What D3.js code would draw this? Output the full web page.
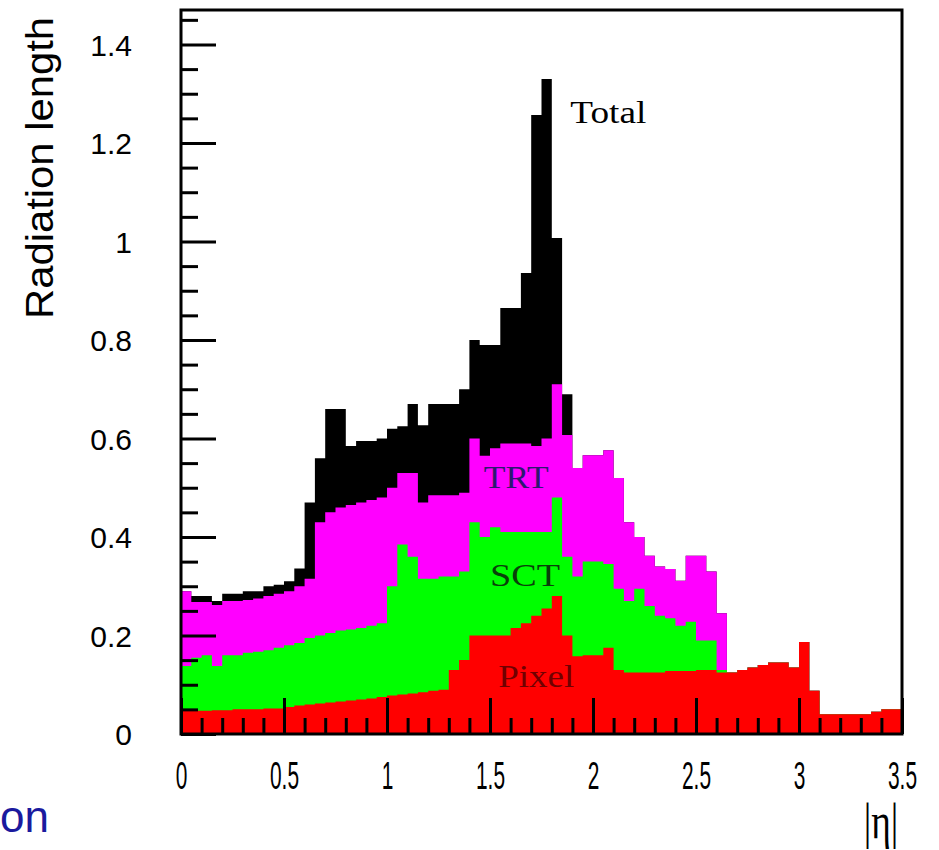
<!DOCTYPE html>
<html>
<head>
<meta charset="utf-8">
<script src="https://cdn.jsdelivr.net/npm/d3@7"></script>
<style>
  body { margin: 0; background: #fff; }
  svg { display: block; }
</style>
</head>
<body>
<div class="chart"></div>
<script>
var width = 939,
    height = 850;

// |eta| histogram, 70 bins of 0.05 from 0 to 3.5
var binWidth = 0.05;

// cumulative levels as drawn (each one sits on top of the next)
var total = [
  0.29, 0.28, 0.28, 0.27, 0.285, 0.285, 0.29, 0.29, 0.30, 0.303,
  0.31, 0.336, 0.47, 0.56, 0.66, 0.66, 0.585, 0.595, 0.595, 0.60,
  0.62, 0.625, 0.67, 0.627, 0.67, 0.67, 0.67, 0.70, 0.80, 0.79,
  0.79, 0.865, 0.865, 0.936, 1.257, 1.33, 1.007, 0.69, 0.54, 0.566,
  0.566, 0.576, 0.52, 0.43, 0.40, 0.362, 0.34, 0.335, 0.311, 0.362,
  0.362, 0.33, 0.245, 0.125, 0.13, 0.135, 0.14, 0.145, 0.145, 0.135,
  0.187, 0.088, 0.04, 0.04, 0.04, 0.04, 0.04, 0.045, 0.05, 0.05];

var trt = [
  0.29, 0.268, 0.268, 0.262, 0.27, 0.27, 0.272, 0.275, 0.28, 0.285,
  0.29, 0.30, 0.315, 0.43, 0.45, 0.46, 0.465, 0.47, 0.475, 0.48,
  0.50, 0.53, 0.53, 0.47, 0.485, 0.485, 0.485, 0.49, 0.60, 0.565,
  0.58, 0.59, 0.59, 0.59, 0.585, 0.60, 0.71, 0.607, 0.54, 0.566,
  0.566, 0.576, 0.52, 0.43, 0.40, 0.362, 0.34, 0.335, 0.311, 0.362,
  0.362, 0.33, 0.245, 0.125, 0.13, 0.135, 0.14, 0.145, 0.145, 0.135,
  0.187, 0.088, 0.04, 0.04, 0.04, 0.04, 0.04, 0.045, 0.05, 0.05];

var sct = [
  0.138, 0.155, 0.16, 0.138, 0.16, 0.16, 0.165, 0.167, 0.17, 0.175,
  0.18, 0.185, 0.195, 0.20, 0.205, 0.21, 0.212, 0.215, 0.22, 0.225,
  0.30, 0.385, 0.36, 0.315, 0.315, 0.32, 0.32, 0.33, 0.43, 0.40,
  0.42, 0.41, 0.41, 0.41, 0.41, 0.41, 0.48, 0.36, 0.32, 0.35,
  0.35, 0.345, 0.295, 0.27, 0.295, 0.26, 0.24, 0.235, 0.22, 0.228,
  0.19, 0.19, 0.13, 0.125, 0.13, 0.135, 0.14, 0.145, 0.145, 0.135,
  0.187, 0.088, 0.04, 0.04, 0.04, 0.04, 0.04, 0.045, 0.05, 0.05];

var pixel = [
  0.047, 0.047, 0.047, 0.048, 0.048, 0.05, 0.05, 0.05, 0.052, 0.052,
  0.055, 0.058, 0.06, 0.062, 0.064, 0.066, 0.068, 0.07, 0.072, 0.075,
  0.078, 0.08, 0.082, 0.085, 0.088, 0.09, 0.13, 0.15, 0.2, 0.2,
  0.2, 0.2, 0.215, 0.225, 0.24, 0.255, 0.28, 0.2, 0.158, 0.16,
  0.16, 0.175, 0.13, 0.125, 0.125, 0.125, 0.125, 0.128, 0.128, 0.128,
  0.13, 0.13, 0.125, 0.125, 0.13, 0.135, 0.14, 0.145, 0.145, 0.135,
  0.187, 0.088, 0.04, 0.04, 0.04, 0.04, 0.04, 0.045, 0.05, 0.05];

var layers = [
  { name: "Total", values: total, color: "#000000" },
  { name: "TRT",   values: trt,   color: "#ff00ff" },
  { name: "SCT",   values: sct,   color: "#00ff00" },
  { name: "Pixel", values: pixel, color: "#ff0000" }
];

var xTicks = [0, 0.5, 1, 1.5, 2, 2.5, 3, 3.5];
var xTickLabels = ["0", "0.5", "1", "1.5", "2", "2.5", "3", "3.5"];
var yTicks = [0, 0.2, 0.4, 0.6, 0.8, 1, 1.2, 1.4];
var yTickLabels = ["0", "0.2", "0.4", "0.6", "0.8", "1", "1.2", "1.4"];

var x = d3.scaleLinear().domain([0, 3.5]).range([181, 902]);
var y = d3.scaleLinear().domain([0, 1.47]).range([734, 10]);

var svg = d3.select(".chart").append("svg")
    .attr("width", width)
    .attr("height", height);

svg.append("rect")
    .attr("width", width)
    .attr("height", height)
    .attr("fill", "#fff");

var area = d3.area()
    .curve(d3.curveStepAfter)
    .x(function(d) { return x(d.eta); })
    .y0(y(0))
    .y1(function(d) { return y(d.v); });

layers.forEach(function(layer) {
  var pts = layer.values.map(function(v, i) { return { eta: i * binWidth, v: v }; });
  pts.push({ eta: layer.values.length * binWidth, v: layer.values[layer.values.length - 1] });
  svg.append("path")
      .datum(pts)
      .attr("d", area)
      .attr("fill", layer.color);
});

// minor ticks
var xMinor = d3.range(1, 35).map(function(i) { return i / 10; })
    .filter(function(d) { return Math.abs(d * 2 - Math.round(d * 2)) > 1e-6; });
var yMinor = d3.range(1, 30).map(function(i) { return i * 0.05; })
    .filter(function(d) { return Math.abs(d * 5 - Math.round(d * 5)) > 1e-6; });

svg.append("g")
    .attr("transform", "translate(0," + y(0) + ")")
    .call(d3.axisBottom(x).tickValues(xMinor).tickSize(-16).tickFormat(""))
    .call(function(g) { g.select(".domain").remove(); });

svg.append("g")
    .attr("transform", "translate(" + x(0) + ",0)")
    .call(d3.axisLeft(y).tickValues(yMinor).tickSize(-17).tickFormat(""))
    .call(function(g) { g.select(".domain").remove(); });

var xAxis = svg.append("g")
    .attr("transform", "translate(0," + y(0) + ")")
    .call(d3.axisBottom(x).tickValues(xTicks).tickSize(-36)
      .tickFormat(function(d, i) { return xTickLabels[i]; }))
    .call(function(g) { g.select(".domain").remove(); });

xAxis.selectAll("text")
    .attr("y", 55)
    .attr("dy", null)
    .attr("transform", "scale(0.55,1)")
    .attr("font-family", "Liberation Sans")
    .attr("font-size", 38)
    .attr("fill", "#000");

var yAxis = svg.append("g")
    .attr("transform", "translate(" + x(0) + ",0)")
    .call(d3.axisLeft(y).tickValues(yTicks).tickSize(-35).tickPadding(49)
      .tickFormat(function(d, i) { return yTickLabels[i]; }))
    .call(function(g) { g.select(".domain").remove(); });

yAxis.selectAll("text")
    .attr("dy", "0.36em")
    .attr("font-family", "Liberation Sans")
    .attr("font-size", 30)
    .attr("fill", "#000");

svg.selectAll(".tick line")
    .attr("stroke", "#000")
    .attr("stroke-width", 3);

// frame
svg.append("rect")
    .attr("x", x(0))
    .attr("y", y(1.47))
    .attr("width", x(3.5) - x(0))
    .attr("height", y(0) - y(1.47))
    .attr("fill", "none")
    .attr("stroke", "#000")
    .attr("stroke-width", 3);

// labels on the histograms
var labels = [
  { text: "Total", eta: 1.89, v: 1.24, color: "#000000", len: 76 },
  { text: "TRT",   eta: 1.47, v: 0.5,  color: "#2e1870", len: 65 },
  { text: "SCT",   eta: 1.5,  v: 0.30, color: "#0a400a", len: 70 },
  { text: "Pixel", eta: 1.54, v: 0.095, color: "#700000", len: 76 }
];

svg.selectAll(".hlabel")
    .data(labels)
    .enter().append("text")
    .attr("class", "hlabel")
    .attr("x", function(d) { return x(d.eta); })
    .attr("y", function(d) { return y(d.v); })
    .attr("font-family", "Liberation Serif")
    .attr("font-size", 32)
    .attr("textLength", function(d) { return d.len; })
    .attr("lengthAdjust", "spacingAndGlyphs")
    .attr("fill", function(d) { return d.color; })
    .text(function(d) { return d.text; });

// axis titles
svg.append("text")
    .attr("transform", "translate(53,168) rotate(-90)")
    .attr("text-anchor", "middle")
    .attr("font-family", "Liberation Sans")
    .attr("font-size", 39)
    .attr("textLength", 302)
    .attr("lengthAdjust", "spacingAndGlyphs")
    .attr("fill", "#000")
    .text("Radiation length");

svg.append("text")
    .attr("transform", "translate(881,838) scale(0.75,1)")
    .attr("text-anchor", "middle")
    .attr("font-family", "Liberation Serif")
    .attr("font-size", 50)
    .attr("fill", "#000")
    .text("|η|");

svg.append("text")
    .attr("x", 0)
    .attr("y", 832)
    .attr("font-family", "Liberation Sans")
    .attr("font-size", 44)
    .attr("fill", "#1a1a9e")
    .text("on");
</script>
</body>
</html>
